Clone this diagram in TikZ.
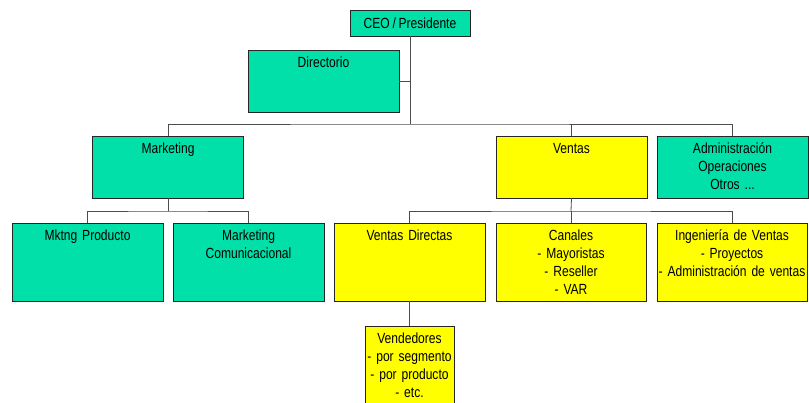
\documentclass[tikz,border=0pt]{standalone}
\usepackage{fontspec}
\setmainfont{Liberation Sans}[FakeStretch=0.82,WordSpace=0.82]
\usetikzlibrary{positioning}
\definecolor{unitgreen}{RGB}{0,224,168}
\definecolor{unityellow}{RGB}{255,255,0}

\begin{document}
\begin{tikzpicture}[x=1pt,y=-1pt,
	font=\fontsize{14.7}{17.7}\selectfont,
	head/.style={rectangle,draw=black!85,line width=0.8pt,inner sep=0pt,outer sep=0pt,minimum width=120pt,minimum height=26pt},
	unit/.style={rectangle,draw=black!85,line width=0.8pt,inner sep=0pt,outer sep=0pt,text width=151pt,align=center,text height=18pt,text depth=44pt},
	tall/.style={text depth=60pt},
	staff/.style={fill=unitgreen},
	sales/.style={fill=unityellow},
	paths/.style={draw=black!70,line width=0.8pt}
	]
\useasboundingbox (0,0) rectangle (809,403);
\clip (0,0) rectangle (809,403);

% ceo and board
\node [head,staff,anchor=north] at (410,10) (ceo) {CEO / Presidente};
\node [unit,staff,anchor=north] at (323.5,50) (dir) {Directorio};

% second level
\node [unit,staff,anchor=north] at (168,136) (mkt) {Marketing};
\node [unit,sales,anchor=north] at (571.5,136) (vts) {Ventas};
\node [unit,staff] [right = 10pt of vts] (adm) {Administración\\Operaciones\\Otros ...};

% third level
\node [unit,tall,staff,anchor=north] at (87.5,223) (mprod) {Mktng Producto};
\node [unit,tall,staff] [right = 10pt of mprod] (mcom) {Marketing\\Comunicacional};
\node [unit,tall,sales] [right = 10pt of mcom] (vdir) {Ventas Directas};
\node [unit,tall,sales,text width=150pt] [right = 11pt of vdir] (can) {Canales\\- Mayoristas\\- Reseller\\- VAR};
\node [unit,tall,sales,text width=150pt] [right = 11pt of can] (ing) {Ingeniería de Ventas\\- Proyectos\\- Administración de ventas};

\node [unit,sales,text width=89pt,text depth=82pt] [below = 25pt of vdir] (vend) {Vendedores\\- por segmento\\- por producto\\- etc.};

% bus lines
\coordinate (bus1) at (410,124);
\coordinate (bus2) at (168,211);
\coordinate (bus3) at (571,211);

% paths
\draw[paths] (ceo.south) -- (bus1);
\draw[paths] (dir.east) -- (dir.east -| bus1);
\draw[paths] (mkt.north) |- (bus1) -| (adm.north);
\draw[paths] (vts.north) -- (vts.north |- bus1);

\draw[paths] (mkt.south) -- (bus2);
\draw[paths] (mprod.north) |- (bus2) -| (mcom.north);

\draw[paths] (vts.south) -- (bus3);
\draw[paths] (vdir.north) |- (bus3) -| (ing.north);
\draw[paths] (can.north) -- (can.north |- bus3);

\draw[paths] (vdir.south) -- (vend.north);

\end{tikzpicture}
\end{document}
